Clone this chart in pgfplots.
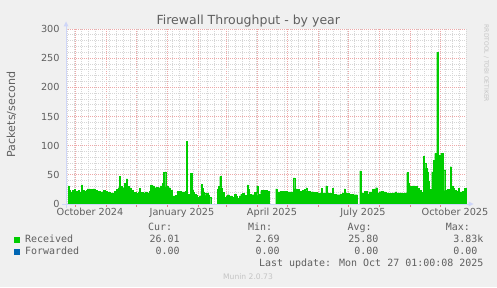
\documentclass[border=0pt]{standalone}
\usepackage{fontspec}
\setmainfont{DejaVu Sans}
\newfontfamily\monofont{DejaVu Sans Mono}
\usepackage{pgfplots}
\pgfplotsset{compat=1.18}
\definecolor{bgc}{HTML}{F0F0F0}
\definecolor{fontc}{HTML}{606060}
\definecolor{axc}{HTML}{CFD6F8}
\definecolor{mgrid}{HTML}{EEA8A8}
\definecolor{mtick}{HTML}{E08080}
\definecolor{gridc}{HTML}{D6D6D6}
\definecolor{recv}{HTML}{00CC00}
\definecolor{fwd}{HTML}{0066B3}
\definecolor{wm}{HTML}{C4C4C4}
\pgfplotsset{base/.style={at={(66pt,83pt)}, anchor=south west,
  scale only axis, width=400pt, height=175pt,
  xmin=0, xmax=400, ymin=0, ymax=300}}
\begin{document}
\begin{tikzpicture}[x=1pt,y=1pt]
\fill[bgc] (0,0) rectangle (497,287);
\useasboundingbox (0,0) rectangle (497,287);
\fill[white] (66,83) rectangle (466,258);
\begin{axis}[
  base,
  axis line style={draw=none},
  tick align=outside,
  major tick length=0pt, minor tick length=0pt,
  ytick={50,100,150,200,250,300},
  yticklabels={50,100,150,200,250,300},
  extra y ticks={0}, extra y tick labels={0},
  extra y tick style={grid=none},
  minor ytick={10,20,30,40,60,70,80,90,110,120,130,140,160,170,180,190,210,220,230,240,260,270,280,290},
  xtick={9,40,70,101,132,160,191,221,252,282,313,344,374},
  xticklabels={},
  minor xtick={1,8,15,22,29,36,43,50,57,64,71,78,85,92,99,106,113,120,127,134,141,148,155,162,169,176,183,190,197,204,211,218,225,232,239,246,253,260,267,274,281,288,295,302,309,316,323,330,337,344,351,358,365,372,379,386,393,400},
  extra x ticks={24,116,206,297,389},
  extra x tick labels={October 2024,January 2025,April 2025,July 2025,October 2025},
  extra x tick style={grid=none},
  xmajorgrids, ymajorgrids, xminorgrids, yminorgrids,
  major grid style={draw=mgrid, line width=0.7pt, dash pattern=on 1pt off 1pt},
  minor grid style={draw=gridc, line width=0.7pt, dash pattern=on 1pt off 1pt},
  yticklabel style={font=\fontsize{9.72}{11}\selectfont, text=fontc, anchor=east, inner sep=0pt, xshift=-6.2pt},
  xticklabel style={font=\fontsize{9.72}{11}\selectfont, text=fontc, anchor=base, inner sep=0pt, yshift=-11.7pt},
]
\end{axis}
\begin{axis}[base, hide axis, clip=false]
% Received (packets/s), four data segments separated by unknown periods
\addplot[fill=recv, draw=recv, line width=0.3pt, const plot] coordinates {
(2,31) (3,23) (4,21) (6,23) (7,20) (8,25) (9,21) (10,22) (12,24) (13,21) (15,33) (16.5,24) (18,22) (20,24) (21,26) (24,25) (27,26) (29,24) (31,22) (34,21) (37,23) (39,22) (41,20) (44,19) (47,19) (48.5,22) (50,25) (52,28) (53,47) (54.5,30) (56,28) (58,36) (60,43) (61.5,30) (63,27) (65,23) (67,20) (70,18) (72,21) (73,27) (74.5,20) (77,19) (79,21) (81,18) (83,22) (84.5,33) (86,31) (88,28) (90,29) (92,28) (94,31) (96,35) (97,54) (99.7,30) (102,28) (104,24) (106,14) (109,15) (111,22) (113,22) (115,21) (118,21) (119,22) (120,108) (121.5,17) (123,16) (124.5,53) (126,24) (127,20) (128,17) (130,15) (131.3,12) (133,14) (135,34) (136,27) (137,21) (138.5,19) (139.7,15) (141.3,19) (142.5,16) (143,12) (144.7,12)
} \closedcycle;
\addplot[fill=recv, draw=recv, line width=0.3pt, const plot] coordinates {
(151.3,25) (152,30) (153.7,47) (154.7,28) (156,20) (158,12) (160,14) (161.3,16) (163,13) (164.7,14) (166,12) (168,17) (170,13) (171.3,10) (173,14) (174.7,17) (176,18) (178,15) (180,14) (181.3,33) (182,25) (183,17) (185,16) (188,20) (190.7,31) (191.7,15) (193,17) (194.7,23) (197,22) (198,23) (201,22) (203,22)
} \closedcycle;
\addplot[fill=recv, draw=recv, line width=0.3pt, const plot] coordinates {
(209.7,26) (211.3,21) (214,22) (218,22) (221.3,21) (224,21) (227.3,45) (228.7,26) (231,25) (233,22) (236,23) (238,25) (240,28) (240.7,22) (244,21) (248,20) (251.3,19) (253,18) (255.3,27) (256.3,19) (258,18) (259.7,31) (260.7,19) (263,18) (266.3,27) (267.3,17) (270,16) (274,17) (276,19) (278,26) (279,19) (281,18) (283,17) (287,16) (291.3,16)
} \closedcycle;
\addplot[fill=recv, draw=recv, line width=0.3pt, const plot] coordinates {
(293.7,57) (295.3,17) (296.5,19) (298,22) (301.3,17) (303,21) (306.3,25) (308,26) (309.7,28) (311.3,19) (313,21) (314.7,22) (317,21) (319.7,19) (323,18) (326,19) (329,21) (330,19) (333,19) (336,18) (338,19) (340.7,54) (342,35) (343,30) (345,28) (346.3,31) (349,30) (351,27) (353,23) (355,20) (356.3,18) (357.3,82) (358.5,70) (359.7,61) (361.3,55) (362.3,40) (363,21) (364.5,25) (365.7,55) (367.3,75) (368.7,87) (370.7,260) (372,84) (374.7,87) (377,58) (378.7,23) (381,25) (384,64) (385.3,30) (387,27) (388,23) (390,22) (392.3,27) (393,21) (396,22) (398,27) (400,27)
} \closedcycle;
% Forwarded (always 0)
\addplot[fwd, line width=1pt] coordinates {(2,0) (144.7,0)};
\addplot[fwd, line width=1pt] coordinates {(151.3,0) (203,0)};
\addplot[fwd, line width=1pt] coordinates {(209.7,0) (291.3,0)};
\addplot[fwd, line width=1pt] coordinates {(293.7,0) (400,0)};
\end{axis}
% axis lines on top, month ticks
\foreach \d in {9,40,70,101,132,160,191,221,252,282,313,344,374}
  \draw[mtick, line width=0.7pt] (66+\d,83) -- (66+\d,80.5);
\draw[axc, line width=1pt] (62,83) -- (469,83);
\fill[axc] (473.5,83) -- (468.5,85.5) -- (468.5,80.5) -- cycle;
\draw[axc, line width=1pt] (66,79) -- (66,261);
\fill[axc] (66,265.5) -- (63.5,260.5) -- (68.5,260.5) -- cycle;
% titles
\node[anchor=base, inner sep=0pt, text=fontc, font=\fontsize{12.5}{14}\selectfont] at (248.3,262) {Firewall Throughput - by year};
\node[anchor=base, inner sep=0pt, rotate=90, text=fontc, font=\fontsize{11.1}{13}\selectfont] at (15,172.5) {Packets/second};
\node[anchor=base, inner sep=0pt, rotate=-90, text=wm, font=\fontsize{6}{7}\selectfont] at (484.3,223.6) {RRDTOOL / TOBI OETIKER};
% legend
\begin{scope}[every node/.style={inner sep=0pt, text=fontc, font=\monofont\fontsize{9.97}{12}\selectfont}]
\node[anchor=base west] at (148,56.2) {Cur:};
\node[anchor=base west] at (248,56.2) {Min:};
\node[anchor=base west] at (347.3,56.2) {Avg:};
\node[anchor=base west] at (445.7,56.2) {Max:};
\fill[recv] (14,44.3) rectangle (20,49.7);
\node[anchor=base west] at (25,44.2) {Received};
\node[anchor=base east] at (179.8,44.2) {26.01};
\node[anchor=base east] at (279.8,44.2) {2.69};
\node[anchor=base east] at (378.5,44.2) {25.80};
\node[anchor=base east] at (483.5,44.2) {3.83k};
\fill[fwd] (14,32.3) rectangle (20,37.7);
\node[anchor=base west] at (25,32.2) {Forwarded};
\node[anchor=base east] at (179.8,32.2) {0.00};
\node[anchor=base east] at (279.8,32.2) {0.00};
\node[anchor=base east] at (378.5,32.2) {0.00};
\node[anchor=base east] at (477.5,32.2) {0.00};
\node[anchor=base east] at (483.5,20.2) {Last update: Mon Oct 27 01:00:08 2025};
\end{scope}
\node[anchor=base, inner sep=0pt, text=wm, font=\fontsize{7.6}{9}\selectfont] at (248,8) {Munin 2.0.73};
\end{tikzpicture}
\end{document}
